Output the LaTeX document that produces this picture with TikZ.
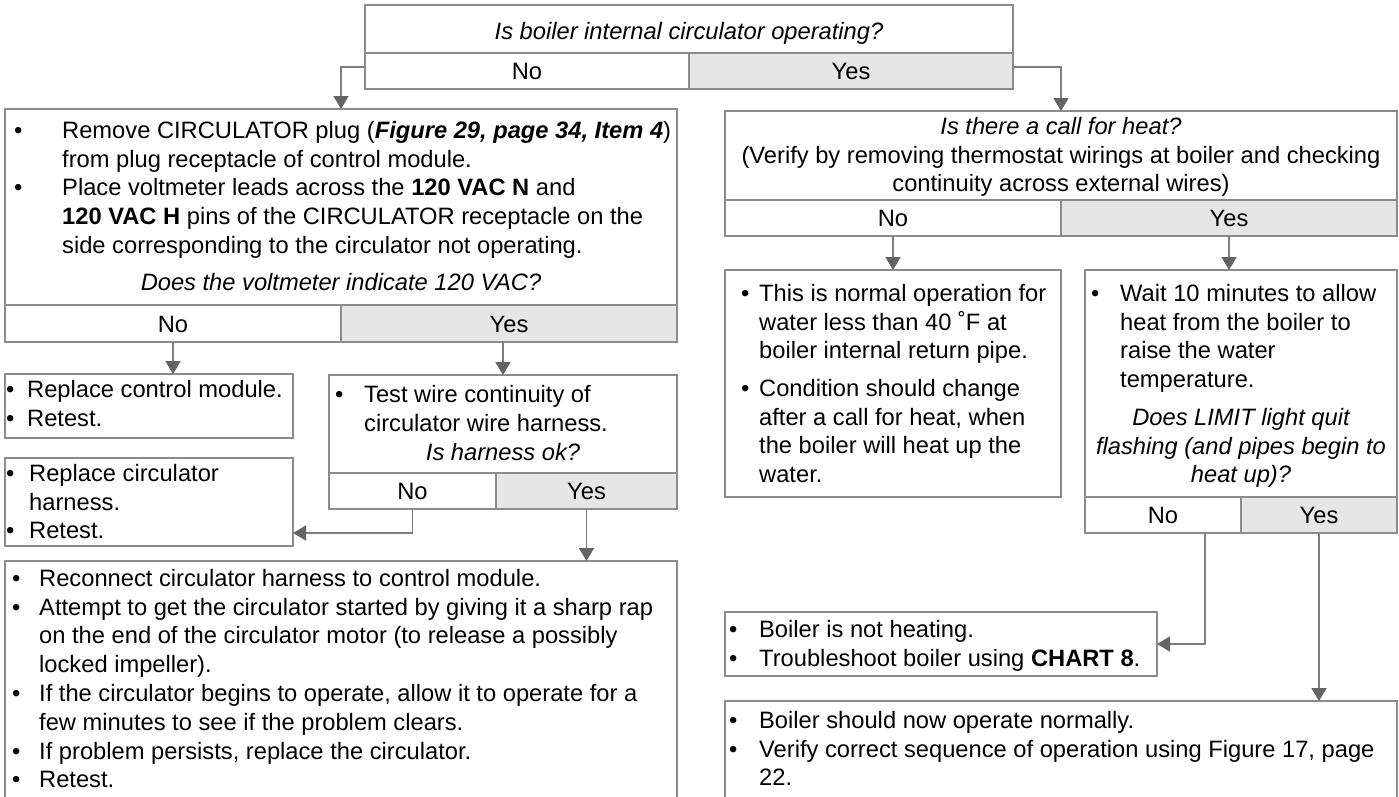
\documentclass[tikz,border=0pt]{standalone}
\usepackage{fontspec}
\setmainfont{Liberation Sans}
\usetikzlibrary{arrows.meta}
\definecolor{lineGray}{RGB}{140,140,140}
\definecolor{arrowGray}{RGB}{125,125,125}
\definecolor{tipGray}{RGB}{100,100,100}
\definecolor{yesGray}{RGB}{230,230,230}
\newcommand{\chartfont}{\fontsize{23.7}{28.8}\selectfont}
\newcommand{\bitem}[1]{\makebox[#1][l]{\textbullet}}
\newcommand{\bpad}[1]{\hspace*{#1}}

\begin{document}
\begin{tikzpicture}[
    x=1pt,y=-1pt,
    font=\chartfont,
    frame/.style={draw=lineGray,line width=1.6pt,inner sep=0pt,outer sep=0pt,anchor=north west},
    nocell/.style={frame,text height=17pt,text depth=0pt},
    yescell/.style={nocell,fill=yesGray},
    txt/.style={inner sep=0pt,align=left,anchor=north west},
    ctxt/.style={inner sep=0pt,align=center,anchor=north},
    qtxt/.style={ctxt,font=\chartfont\itshape},
    arr/.style={-{Triangle[length=13pt,width=15pt,color=tipGray]},line width=1.6pt,arrowGray}
  ]
    \path[use as bounding box,clip] (0,0) rectangle (1399,796);

    % first question
    \node[frame,minimum width=648,minimum height=48,text height=21pt,text depth=0pt] (q1) at (365,5) {\itshape Is boiler internal circulator operating?};
    \node[nocell,minimum width=324,minimum height=36] (q1no) at (q1.south west) {No};
    \node[yescell,minimum width=324,minimum height=36] (q1yes) at (q1no.north east) {Yes};

    % left branch
    \node[frame,minimum width=672,minimum height=196] (b1) at (5,109) {};
    \node[nocell,minimum width=336,minimum height=37] (b1no) at (b1.south west) {No};
    \node[yescell,minimum width=336,minimum height=37] (b1yes) at (b1no.north east) {Yes};
    \node[txt] (b1txt) at (14,121) {\bitem{48pt}Remove CIRCULATOR plug (\textbf{\textit{Figure 29, page 34, Item 4}})\\
      \bpad{48pt}from plug receptacle of control module.\\
      \bitem{48pt}Place voltmeter leads across the \textbf{120 VAC N} and\\
      \bpad{48pt}\textbf{120 VAC H} pins of the CIRCULATOR receptacle on the\\
      \bpad{48pt}side corresponding to the circulator not operating.};
    \node[qtxt] (b1q) at (341,273) {Does the voltmeter indicate 120 VAC?};

    \node[frame,minimum width=288,minimum height=64] (b3) at (5,374) {};
    \node[txt] (b3txt) at (6,380) {\bitem{21pt}Replace control module.\\\bitem{21pt}Retest.};

    \node[frame,minimum width=348,minimum height=98] (b4) at (329,375) {};
    \node[nocell,minimum width=167,minimum height=36] (b4no) at (b4.south west) {No};
    \node[yescell,minimum width=181,minimum height=36] (b4yes) at (b4no.north east) {Yes};
    \node[txt] (b4txt) at (335,385) {\bitem{29pt}Test wire continuity of\\\bpad{29pt}circulator wire harness.};
    \node[qtxt] (b4q) at (503,443) {Is harness ok?};

    \node[frame,minimum width=288,minimum height=88] (b5) at (5,458) {};
    \node[txt] (b5txt) at (6,464) {\bitem{23pt}Replace circulator\\\bpad{23pt}harness.\\\bitem{23pt}Retest.};

    \node[frame,minimum width=672,minimum height=250] (b6) at (5,561) {};
    \node[txt] (b6txt) at (12,569) {\bitem{27pt}Reconnect circulator harness to control module.\\
      \bitem{27pt}Attempt to get the circulator started by giving it a sharp rap\\
      \bpad{27pt}on the end of the circulator motor (to release a possibly\\
      \bpad{27pt}locked impeller).\\
      \bitem{27pt}If the circulator begins to operate, allow it to operate for a\\
      \bpad{27pt}few minutes to see if the problem clears.\\
      \bitem{27pt}If problem persists, replace the circulator.\\
      \bitem{27pt}Retest.};

    % right branch
    \node[frame,minimum width=672,minimum height=89] (b2) at (725,111) {};
    \node[nocell,minimum width=336,minimum height=36] (b2no) at (b2.south west) {No};
    \node[yescell,minimum width=336,minimum height=36] (b2yes) at (b2no.north east) {Yes};
    \node[ctxt] (b2q) at (1061,117) {{\itshape Is there a call for heat?}\\
      (Verify by removing thermostat wirings at boiler and checking\\
      continuity across external wires)};

    \node[frame,minimum width=336,minimum height=227] (b7) at (725,270) {};
    \node[txt] (b7txt) at (741,284) {\bitem{18pt}This is normal operation for\\
      \bpad{18pt}water less than 40 ˚F at\\
      \bpad{18pt}boiler internal return pipe.\\[8.6pt]
      \bitem{18pt}Condition should change\\
      \bpad{18pt}after a call for heat, when\\
      \bpad{18pt}the boiler will heat up the\\
      \bpad{18pt}water.};

    \node[frame,minimum width=312,minimum height=227] (b8) at (1085,270) {};
    \node[nocell,minimum width=156,minimum height=36] (b8no) at (b8.south west) {No};
    \node[yescell,minimum width=156,minimum height=36] (b8yes) at (b8no.north east) {Yes};
    \node[txt] (b8txt) at (1091,284) {\bitem{29pt}Wait 10 minutes to allow\\
      \bpad{29pt}heat from the boiler to\\
      \bpad{29pt}raise the water\\
      \bpad{29pt}temperature.};
    \node[qtxt] (b8q) at (1241,408) {Does LIMIT light quit\\flashing (and pipes begin to\\heat up)?};

    \node[frame,minimum width=432,minimum height=64] (b9) at (725,612) {};
    \node[txt] (b9txt) at (729,620) {\bitem{30pt}Boiler is not heating.\\
      \bitem{30pt}Troubleshoot boiler using \textbf{CHART 8}.};

    \node[frame,minimum width=672,minimum height=110] (b10) at (725,701) {};
    \node[txt] (b10txt) at (729,711) {\bitem{30pt}Boiler should now operate normally.\\
      \bitem{30pt}Verify correct sequence of operation using Figure 17, page\\
      \bpad{30pt}22.};

    % connectors
    \draw[arr] ([yshift=4pt]q1no.west) -| (b1.north);
    \draw[arr] ([yshift=4pt]q1yes.east) -| (b2.north);
    \draw[arr] (b1no.south) -- (b1no.south |- b3.north);
    \draw[arr] (b4.north |- b1yes.south) -- (b4.north);
    \draw[arr] (b4no.south) |- ([yshift=13pt]b5.south east);
    \draw[arr] (b4yes.south) -- (b4yes.south |- b6.north);
    \draw[arr] (b2no.south) -- (b2no.south |- b7.north);
    \draw[arr] (b2yes.south) -- (b2yes.south |- b8.north);
    \draw[arr] ([xshift=-36pt]b8no.south east) |- (b9.east);
    \draw[arr] (b8yes.south) -- (b8yes.south |- b10.north);
  \end{tikzpicture}
\end{document}
